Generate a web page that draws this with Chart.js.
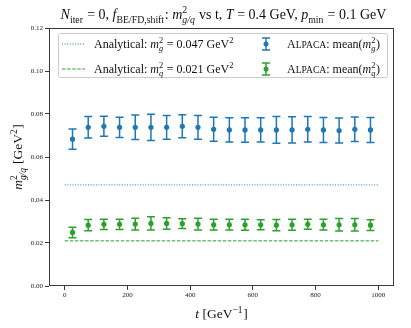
<!DOCTYPE html>
<html><head><meta charset="utf-8">
<script src="https://cdn.jsdelivr.net/npm/chart.js@4"></script>
<style>html,body{margin:0;padding:0;background:#fff;}</style>
</head><body>
<canvas id="c" width="411" height="328"></canvas>
<script>
// ---- data ----
const tValues = [25,75,125,175,225,275,325,375,425,475,525,575,625,675,725,775,825,875,925,975];
const gluonMean = [0.0683,0.0738,0.0743,0.0738,0.0738,0.0738,0.0738,0.0743,0.0738,0.0729,
                   0.0726,0.0726,0.0726,0.0726,0.0726,0.0729,0.0726,0.0723,0.0729,0.0726];
const gluonErr  = [0.0047,0.0050,0.0047,0.0047,0.0057,0.0061,0.0055,0.0054,0.0055,0.0056,
                   0.0056,0.0057,0.0056,0.0062,0.0061,0.0059,0.0058,0.0058,0.0057,0.0058];
const quarkMean = [0.0249,0.0283,0.0287,0.0287,0.0288,0.0291,0.0291,0.0290,0.0288,0.0285,
                   0.0285,0.0285,0.0285,0.0283,0.0285,0.0287,0.0285,0.0285,0.0285,0.0283];
const quarkErr  = [0.0024,0.0026,0.0024,0.0024,0.0027,0.0031,0.0027,0.0023,0.0027,0.0025,
                   0.0025,0.0026,0.0023,0.0026,0.0026,0.0023,0.0025,0.0029,0.0029,0.0025];
const analyticGluon = 0.047;
const analyticQuark = 0.021;
const analyticRange = [0, 1000];
const xTicks = [0,200,400,600,800,1000];
const yTicks = [0.00,0.02,0.04,0.06,0.08,0.10,0.12];

const BLUE = '#1f77b4', GREEN = '#2ca02c';
const FAM = '"Liberation Serif", "DejaVu Serif", serif';

function fontStr(size, it){ return (it?'italic ':'') + size + 'px ' + FAM; }
function segWidth(ctx, s, base){
  if (s.sup !== undefined || s.sub !== undefined){
    let w = 0;
    ctx.font = fontStr(base*0.7, s.supIt);
    if (s.sup) w = Math.max(w, ctx.measureText(s.sup).width);
    ctx.font = fontStr(base*0.7, s.subIt);
    if (s.sub) w = Math.max(w, ctx.measureText(s.sub).width);
    return w + base*0.05;
  }
  ctx.font = fontStr(base*(s.s||1), s.it);
  return ctx.measureText(s.t).width;
}
function richWidth(ctx, segs, base){ return segs.reduce((a,s)=>a+segWidth(ctx,s,base),0); }
function drawRich(ctx, x, y, segs, base, align, color){
  const w = richWidth(ctx, segs, base);
  let cx = align==='center' ? x - w/2 : x;
  ctx.fillStyle = color || '#111';
  ctx.textBaseline = 'alphabetic'; ctx.textAlign = 'left';
  for (const s of segs){
    if (s.sup !== undefined || s.sub !== undefined){
      if (s.sup){ ctx.font = fontStr(base*0.7, s.supIt); ctx.fillText(s.sup, cx, y - base*0.4); }
      if (s.sub){ ctx.font = fontStr(base*0.7, s.subIt); ctx.fillText(s.sub, cx, y + base*0.28); }
    } else {
      ctx.font = fontStr(base*(s.s||1), s.it);
      ctx.fillText(s.t, cx, y + (s.dy||0)*base);
    }
    cx += segWidth(ctx, s, base);
  }
  return w;
}

const titleSegs = [
  {t:'N',it:true},{sub:'iter'},{t:' = 0, '},{t:'f',it:true},{sub:'BE/FD,shift'},{t:': '},
  {t:'m',it:true},{sup:'2',sub:'g/q',subIt:true},{t:' vs t, '},{t:'T',it:true},{t:' = 0.4 GeV, '},
  {t:'p',it:true},{sub:'min'},{t:' = 0.1 GeV'}
];
const xLabelSegs = [{t:'t',it:true},{t:' [GeV'},{sup:'\u22121'},{t:']'}];
const yLabelSegs = [{t:'m',it:true},{sup:'2',sub:'g/q',subIt:true},{t:' [GeV'},{sup:'2'},{t:']'}];
const alpaca = (q)=>[{t:'A'},{t:'LPACA',s:0.8},{t:': mean('},{t:'m',it:true},{sup:'2',sub:q,subIt:true},{t:')'}];
const legendRows = [
  {color:BLUE, dash:[1,1.6], text:[{t:'Analytical: '},{t:'m',it:true},{sup:'2',sub:'g',subIt:true},{t:' = 0.047 GeV'},{sup:'2'}], alp:alpaca('g')},
  {color:GREEN, dash:[3.5,1.6], text:[{t:'Analytical: '},{t:'m',it:true},{sup:'2',sub:'q',subIt:true},{t:' = 0.021 GeV'},{sup:'2'}], alp:alpaca('q')}
];

function drawErrBar(ctx, x, y1, y2, color){
  ctx.strokeStyle = color; ctx.lineWidth = 1.5; ctx.setLineDash([]);
  ctx.beginPath();
  ctx.moveTo(x, y1); ctx.lineTo(x, y2);
  ctx.moveTo(x-4, y1); ctx.lineTo(x+4, y1);
  ctx.moveTo(x-4, y2); ctx.lineTo(x+4, y2);
  ctx.stroke();
}

const errorBarPlugin = {
  id:'errbars',
  beforeDatasetDraw(chart, args){
    const ds = chart.data.datasets[args.index];
    if (!ds.errors) return;
    const xs = chart.scales.x, ys = chart.scales.y, ctx = chart.ctx;
    ctx.save();
    ds.data.forEach((p,i)=>{
      const e = ds.errors[i];
      drawErrBar(ctx, xs.getPixelForValue(p.x), ys.getPixelForValue(p.y+e), ys.getPixelForValue(p.y-e), ds.borderColor);
    });
    ctx.restore();
  }
};

const decorPlugin = {
  id:'decor',
  beforeDraw(chart){
    const ctx = chart.ctx; ctx.save(); ctx.fillStyle='#fff'; ctx.fillRect(0,0,chart.width,chart.height); ctx.restore();
  },
  afterDraw(chart){
    const ctx = chart.ctx, a = chart.chartArea;
    ctx.save();
    // frame
    ctx.strokeStyle = '#3a3a3a'; ctx.lineWidth = 1; ctx.setLineDash([]);
    ctx.strokeRect(a.left+0.5, a.top+0.5, a.right-a.left-1, a.bottom-a.top-1);
    // title
    drawRich(ctx, (a.left+a.right)/2 + 2, 19, titleSegs, 14, 'center');
    // x label
    drawRich(ctx, (a.left+a.right)/2, 318, xLabelSegs, 13.5, 'center');
    // y label
    ctx.save(); ctx.translate(22, (a.top+a.bottom)/2); ctx.rotate(-Math.PI/2);
    drawRich(ctx, 0, 0, yLabelSegs, 13.5, 'center'); ctx.restore();
    // legend
    const lx = a.left+9, ly = a.top+5, lw = 329, lh = 44;
    ctx.fillStyle = 'rgba(255,255,255,0.8)'; ctx.strokeStyle = '#cccccc'; ctx.lineWidth = 1;
    ctx.beginPath(); ctx.roundRect(lx+0.5, ly+0.5, lw, lh, 2); ctx.fill(); ctx.stroke();
    legendRows.forEach((r,i)=>{
      const yy = ly + 11 + i*25;
      ctx.strokeStyle = r.color; ctx.lineWidth = 1; ctx.setLineDash(r.dash);
      ctx.beginPath(); ctx.moveTo(lx+4, yy); ctx.lineTo(lx+27, yy); ctx.stroke(); ctx.setLineDash([]);
      drawRich(ctx, lx+36, yy+4, r.text, 12, 'left');
      drawErrBar(ctx, lx+208, yy-6, yy+6, r.color);
      ctx.fillStyle = r.color; ctx.beginPath(); ctx.arc(lx+208, yy, 2.5, 0, Math.PI*2); ctx.fill();
      drawRich(ctx, lx+229, yy+4, r.alp, 12, 'left');
    });
    ctx.restore();
  }
};

const pts = (m)=>tValues.map((t,i)=>({x:t, y:m[i]}));
const hline = (v)=>analyticRange.map(t=>({x:t, y:v}));

new Chart(document.getElementById('c'), {
  type:'scatter',
  data:{datasets:[
    {type:'line', data:hline(analyticGluon), borderColor:BLUE, borderWidth:1, borderDash:[1,1.6], pointRadius:0, fill:false},
    {type:'line', data:hline(analyticQuark), borderColor:GREEN, borderWidth:1, borderDash:[3.5,1.6], pointRadius:0, fill:false},
    {data:pts(gluonMean), errors:gluonErr, borderColor:BLUE, backgroundColor:BLUE, pointRadius:2.6, pointBorderWidth:0},
    {data:pts(quarkMean), errors:quarkErr, borderColor:GREEN, backgroundColor:GREEN, pointRadius:2.6, pointBorderWidth:0}
  ]},
  options:{
    responsive:false, animation:false, devicePixelRatio:1,
    layout:{padding:{top:28,right:17,left:0,bottom:0}},
    plugins:{legend:{display:false}, title:{display:false}, tooltip:{enabled:false}},
    scales:{
      x:{type:'linear', min:-50, max:1050,
         afterBuildTicks:(s)=>{ s.ticks = xTicks.map(v=>({value:v})); },
         afterFit:(s)=>{ s.height = 42; },
         ticks:{font:{family:FAM,size:7}, color:'#222', padding:1, maxRotation:0, callback:(v)=>String(v)},
         grid:{drawOnChartArea:false, tickLength:4, color:'#3a3a3a'}, border:{display:false}},
      y:{min:0, max:0.12,
         afterBuildTicks:(s)=>{ s.ticks = yTicks.map(v=>({value:v})); },
         afterFit:(s)=>{ s.width = 49; },
         ticks:{font:{family:FAM,size:7}, color:'#222', padding:2, callback:(v)=>Number(v).toFixed(2)},
         grid:{drawOnChartArea:false, tickLength:4, color:'#3a3a3a'}, border:{display:false}}
    }
  },
  plugins:[errorBarPlugin, decorPlugin]
});
</script>
</body></html>
